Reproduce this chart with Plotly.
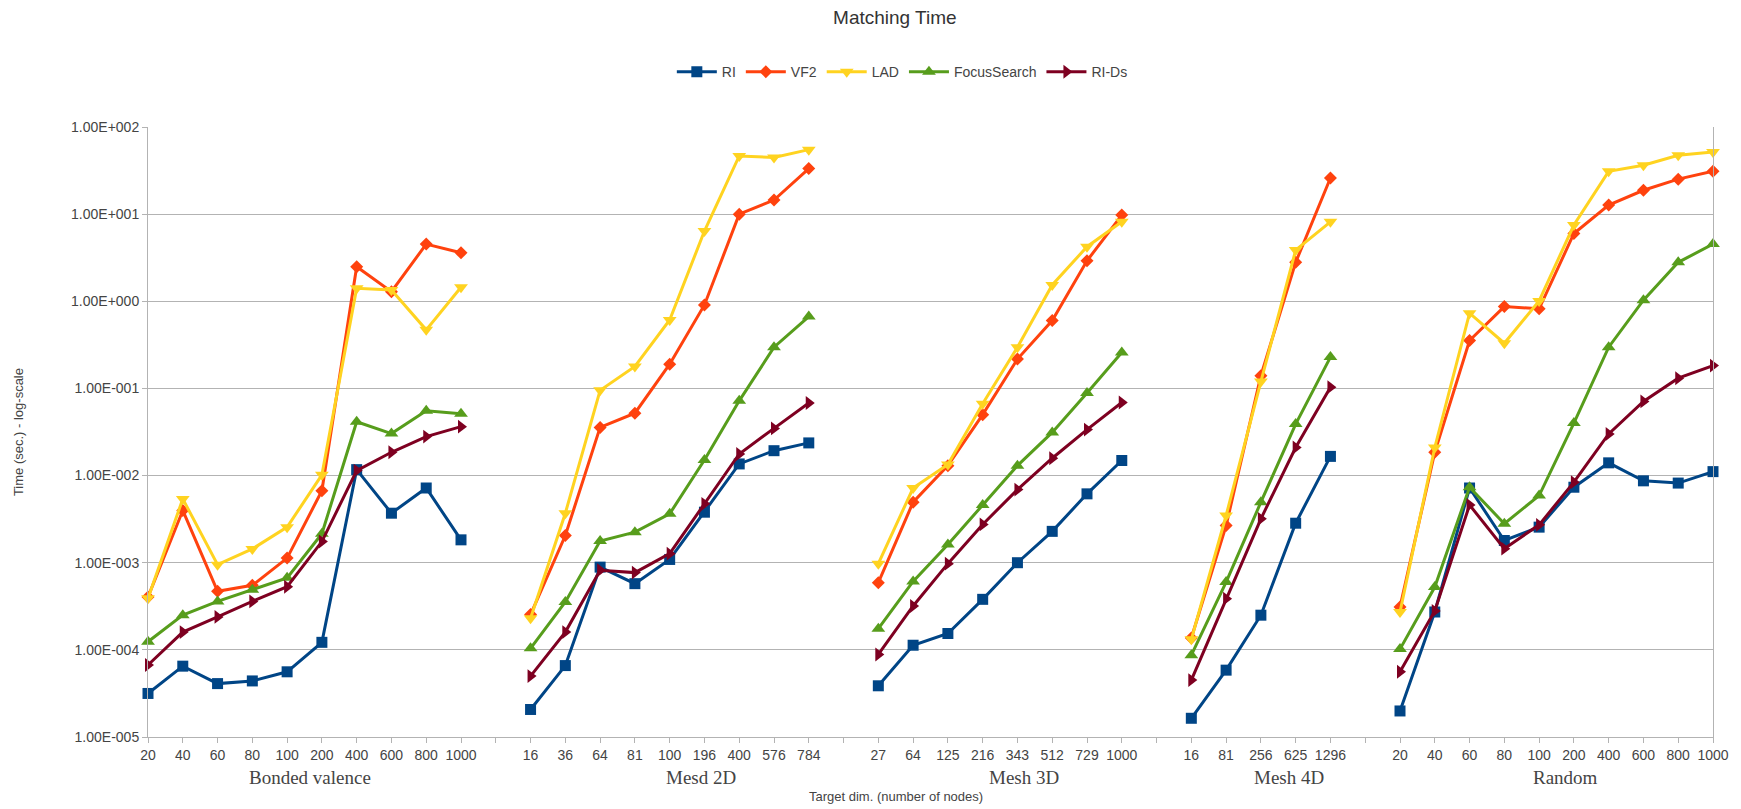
import plotly.graph_objects as go

# Benchmark groups and the target sizes measured in each
group_names = ["Bonded valence", "Mesd 2D", "Mesh 3D", "Mesh 4D", "Random"]
bonded_sizes = ["20", "40", "60", "80", "100", "200", "400", "600", "800", "1000"]
mesh2d_sizes = ["16", "36", "64", "81", "100", "196", "400", "576", "784"]
mesh3d_sizes = ["27", "64", "125", "216", "343", "512", "729", "1000"]
mesh4d_sizes = ["16", "81", "256", "625", "1296"]
random_sizes = ["20", "40", "60", "80", "100", "200", "400", "600", "800", "1000"]

# Matching time in seconds, listed group after group in the order above
ri_times = [
    3.16e-5, 6.5e-5, 4.1e-5, 4.4e-5, 5.6e-5, 1.22e-4, 1.17e-2, 3.7e-3, 7.2e-3, 1.83e-3,
    2.07e-5, 6.6e-5, 8.9e-4, 5.75e-4, 1.09e-3, 3.8e-3, 1.36e-2, 1.93e-2, 2.37e-2,
    3.87e-5, 1.13e-4, 1.54e-4, 3.8e-4, 1.0e-3, 2.29e-3, 6.17e-3, 1.49e-2,
    1.64e-5, 5.85e-5, 2.5e-4, 2.84e-3, 1.66e-2,
    1.99e-5, 2.72e-4, 7.2e-3, 1.8e-3, 2.56e-3, 7.35e-3, 1.4e-2, 8.7e-3, 8.2e-3, 1.11e-2,
]
vf2_times = [
    4.05e-4, 3.98e-3, 4.7e-4, 5.5e-4, 1.13e-3, 6.7e-3, 2.49, 1.29, 4.53, 3.6,
    2.54e-4, 2.05e-3, 3.57e-2, 5.2e-2, 0.19, 0.908, 10.0, 14.5, 33.3,
    5.9e-4, 4.95e-3, 1.3e-2, 5.0e-2, 0.217, 0.6, 2.92, 9.75,
    1.37e-4, 2.67e-3, 0.14, 2.8, 26.0,
    3.1e-4, 1.85e-2, 0.355, 0.87, 0.82, 6.0, 12.7, 18.8, 25.2, 31.0,
]
lad_times = [
    3.9e-4, 5.4e-3, 9.5e-4, 1.44e-3, 2.56e-3, 1.02e-2, 1.41, 1.35, 0.47, 1.45,
    2.3e-4, 3.7e-3, 0.095, 0.179, 0.61, 6.4, 46.5, 44.6, 55.0,
    9.75e-4, 7.2e-3, 1.34e-2, 6.67e-2, 0.297, 1.54, 4.23, 8.17,
    1.32e-4, 3.48e-3, 0.12, 3.87, 8.17,
    2.72e-4, 2.1e-2, 0.73, 0.33, 1.01, 7.5, 31.0, 36.4, 47.4, 51.8,
]
focus_times = [
    1.24e-4, 2.5e-4, 3.6e-4, 4.9e-4, 6.7e-4, 2.15e-3, 4.15e-2, 3.03e-2, 5.55e-2, 5.13e-2,
    1.04e-4, 3.55e-4, 1.77e-3, 2.24e-3, 3.64e-3, 1.51e-2, 7.2e-2, 0.297, 0.667,
    1.75e-4, 6.1e-4, 1.62e-3, 4.6e-3, 1.3e-2, 3.13e-2, 8.85e-2, 0.258,
    8.7e-5, 6.0e-4, 4.95e-3, 3.9e-2, 0.229,
    1.02e-4, 5.26e-4, 7.35e-3, 2.8e-3, 5.9e-3, 4.0e-2, 0.297, 1.03, 2.8, 4.53,
]
rids_times = [
    6.7e-5, 1.6e-4, 2.39e-4, 3.6e-4, 5.3e-4, 1.75e-3, 1.14e-2, 1.85e-2, 2.8e-2, 3.64e-2,
    5.0e-5, 1.6e-4, 8.2e-4, 7.7e-4, 1.27e-3, 4.74e-3, 1.77e-2, 3.48e-2, 6.8e-2,
    8.85e-5, 3.19e-4, 9.75e-4, 2.75e-3, 6.9e-3, 1.58e-2, 3.37e-2, 6.9e-2,
    4.5e-5, 3.87e-4, 3.19e-3, 2.1e-2, 0.1035,
    5.6e-5, 2.8e-4, 4.6e-3, 1.45e-3, 2.72e-3, 8.4e-3, 3.0e-2, 7.1e-2, 0.131, 0.183,
]

y_tick_values = [1e-5, 1e-4, 1e-3, 1e-2, 1e-1, 1e0, 1e1, 1e2]
y_tick_labels = ["1.00E-005", "1.00E-004", "1.00E-003", "1.00E-002",
                 "1.00E-001", "1.00E+000", "1.00E+001", "1.00E+002"]

# Where each group caption sits, in slot units along the x axis
group_label_x = [4.65, 15.9, 25.2, 32.8, 40.76]

series = [
    ("RI", ri_times, "#004586", "square", 11),
    ("VF2", vf2_times, "#ff420e", "diamond", 10),
    ("LAD", lad_times, "#ffd320", "triangle-down", 12),
    ("FocusSearch", focus_times, "#579d1c", "triangle-up", 12),
    ("RI-Ds", rids_times, "#7e0021", "triangle-right", 12),
]

groups = [bonded_sizes, mesh2d_sizes, mesh3d_sizes, mesh4d_sizes, random_sizes]

# Lay the groups out on one numeric axis with an empty slot between them
slot_x, tick_vals, tick_text, group_slices = [], [], [], []
pos = 0
start = 0
for gi, sizes in enumerate(groups):
    xs = list(range(pos, pos + len(sizes)))
    slot_x.append(xs)
    tick_vals += xs
    tick_text += sizes
    group_slices.append((start, start + len(sizes)))
    start += len(sizes)
    pos += len(sizes)
    if gi < len(groups) - 1:
        tick_vals.append(pos)
        tick_text.append("")
        pos += 1
x_max = pos - 1

fig = go.Figure()
for name, values, colour, symbol, msize in series:
    xs, ys = [], []
    for gi, (a, b) in enumerate(group_slices):
        xs += slot_x[gi] + [None]
        ys += values[a:b] + [None]
    fig.add_trace(go.Scatter(
        x=xs, y=ys, name=name, mode="lines+markers",
        line=dict(color=colour, width=3),
        marker=dict(symbol=symbol, size=msize, color=colour),
        connectgaps=False, cliponaxis=False,
    ))

axis_grey = "#b3b3b3"
text_grey = "#444444"

annotations = [
    dict(x=gx, y=-0.066, xref="x", yref="paper", text=g, showarrow=False,
         xanchor="center", yanchor="middle",
         font=dict(family="Liberation Serif", size=19, color=text_grey))
    for gx, g in zip(group_label_x, group_names)
]
annotations.append(dict(
    x=0.478, y=-0.098, xref="paper", yref="paper",
    text="Target dim. (number of nodes)", showarrow=False,
    xanchor="center", yanchor="middle",
    font=dict(family="Liberation Sans", size=13, color=text_grey)))
annotations.append(dict(
    x=-0.083, y=0.5, xref="paper", yref="paper",
    text="Time (sec.) - log-scale", showarrow=False, textangle=-90,
    xanchor="center", yanchor="middle",
    font=dict(family="Liberation Sans", size=13, color=text_grey)))

fig.update_layout(
    width=1741, height=809,
    margin=dict(l=148, r=26, t=127, b=72),
    paper_bgcolor="white", plot_bgcolor="white",
    font=dict(family="Liberation Sans", size=13, color=text_grey),
    title=dict(text="Matching Time", x=0.514, xanchor="center", y=0.978, yanchor="middle",
               font=dict(family="Liberation Sans", size=19, color="#333333")),
    legend=dict(orientation="h", x=0.482, xanchor="center", y=1.09, yanchor="middle",
                font=dict(family="Liberation Sans", size=14, color=text_grey),
                itemwidth=40, traceorder="normal"),
    xaxis=dict(
        range=[0, x_max], tickmode="array", tickvals=tick_vals, ticktext=tick_text,
        showgrid=False, zeroline=False, showline=True, linecolor=axis_grey, linewidth=1,
        ticks="outside", ticklen=5, tickcolor=axis_grey,
        tickfont=dict(family="Liberation Sans", size=14, color=text_grey),
    ),
    yaxis=dict(
        type="log", range=[-5, 2], tickmode="array",
        tickvals=y_tick_values, ticktext=y_tick_labels,
        showgrid=True, gridcolor=axis_grey, gridwidth=1,
        showline=True, linecolor=axis_grey, linewidth=1, mirror=True,
        ticks="outside", ticklen=5, tickcolor=axis_grey, zeroline=False,
        tickfont=dict(family="Liberation Sans", size=14, color=text_grey),
    ),
    annotations=annotations,
)

fig.write_html("out.html")
